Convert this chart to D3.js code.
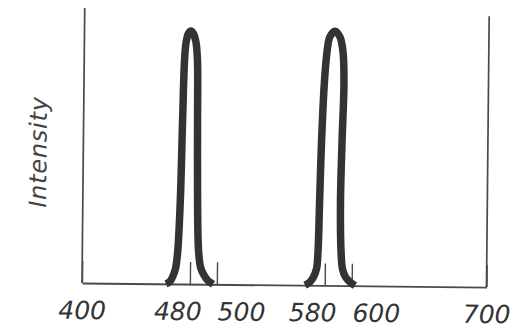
<!DOCTYPE html>
<html>
<head>
<meta charset="utf-8">
<script src="https://cdn.jsdelivr.net/npm/d3@7"></script>
<style>
  html, body { margin: 0; padding: 0; background: #fff; }
  svg { display: block; }
</style>
</head>
<body>
<svg id="chart" width="529" height="329"></svg>
<script>
// Emission spectrum: two narrow lines, wavelength in nm, relative intensity
const blueWavelength = [462.3, 465.3, 467.6, 469.4, 470.8, 472.3, 473.4, 474.4, 475.4, 477.1, 479.0,
                        480.8, 482.8, 484.0, 484.5, 485.1, 486.2, 487.9, 490.6, 493.4, 497.2];
const blueIntensity  = [0, 0.009, 0.031, 0.06, 0.122, 0.304, 0.595, 0.813, 0.878, 0.911, 0.920,
                        0.911, 0.878, 0.813, 0.595, 0.304, 0.122, 0.06, 0.031, 0.013, 0];

const yellowWavelength = [565.4, 568.4, 571.3, 573.8, 574.8, 575.6, 576.6, 578.3, 580.0, 582.0, 585.8,
                          589.5, 591.9, 592.8, 591.8, 591.1, 591.9, 593.1, 595.4, 598.8, 602.5];
const yellowIntensity  = [0, 0.009, 0.027, 0.06, 0.122, 0.304, 0.522, 0.740, 0.849, 0.904, 0.925,
                          0.904, 0.849, 0.740, 0.522, 0.304, 0.122, 0.06, 0.031, 0.013, 0];

const tickLabels = [400, 480, 500, 580, 600, 700];
const axisTitle = "Intensity";

const svg = d3.select("#chart");
const g = svg.append("g").attr("transform", "rotate(0.57, 82, 283)");

const x = d3.scaleLinear().domain([400, 700]).range([82, 486.5]);
const y = d3.scaleLinear().domain([0, 1]).range([283, 8]);

const ink = "#333";
const axisInk = "#4a4a4a";

// Side frame lines
g.append("line")
  .attr("x1", x(400)).attr("x2", x(400))
  .attr("y1", y(0)).attr("y2", y(1))
  .attr("stroke", axisInk).attr("stroke-width", 1.7);
g.append("line")
  .attr("x1", x(700)).attr("x2", x(700))
  .attr("y1", y(0)).attr("y2", y(0.985))
  .attr("stroke", axisInk).attr("stroke-width", 1.7);

// Wavelength axis with short inward ticks
const axis = g.append("g")
  .attr("transform", `translate(0,${y(0)})`)
  .call(d3.axisBottom(x).tickValues(tickLabels).tickFormat(d3.format("d"))
        .tickSizeInner(-22).tickSizeOuter(0));
axis.select(".domain").attr("stroke", axisInk).attr("stroke-width", 1.8);
axis.selectAll(".tick line").attr("stroke", axisInk).attr("stroke-width", 1.4);
const labels = axis.selectAll(".tick text")
  .attr("y", 36).attr("dy", 0)
  .attr("fill", ink)
  .style("font-family", "'DejaVu Sans', sans-serif")
  .style("font-style", "italic")
  .style("font-size", "25px");

// Spread crowded neighbouring labels apart (mostly to the right)
const pos = tickLabels.map(v => x(v));
const widths = labels.nodes().map(n => n.getComputedTextLength());
const minGap = 16;
for (let pass = 0; pass < 3; pass++) {
  for (let i = 0; i < pos.length - 1; i++) {
    const need = (widths[i] + widths[i + 1]) / 2 + minGap - (pos[i + 1] - pos[i]);
    if (need > 0) {
      pos[i] -= need / 3;
      pos[i + 1] += 2 * need / 3;
    }
  }
}
labels.attr("x", (d, i) => pos[i] - x(d));

// Spectral lines
const line = d3.line()
  .x(d => x(d[0]))
  .y(d => y(d[1]))
  .curve(d3.curveCatmullRom.alpha(0.5));

[[blueWavelength, blueIntensity], [yellowWavelength, yellowIntensity]].forEach(([w, v]) => {
  g.append("path")
    .datum(w.map((d, i) => [d, v[i]]))
    .attr("d", line)
    .attr("fill", "none")
    .attr("stroke", ink)
    .attr("stroke-width", 7.5)
    .attr("stroke-linejoin", "round");
});

// Vertical axis title
g.append("text")
  .attr("transform", `translate(45.2,152.4) rotate(-90)`)
  .attr("text-anchor", "middle")
  .attr("fill", "#444")
  .style("font-family", "'DejaVu Sans', sans-serif")
  .style("font-style", "italic")
  .style("font-size", "24px")
  .style("letter-spacing", "0.8px")
  .text(axisTitle);
</script>
</body>
</html>
